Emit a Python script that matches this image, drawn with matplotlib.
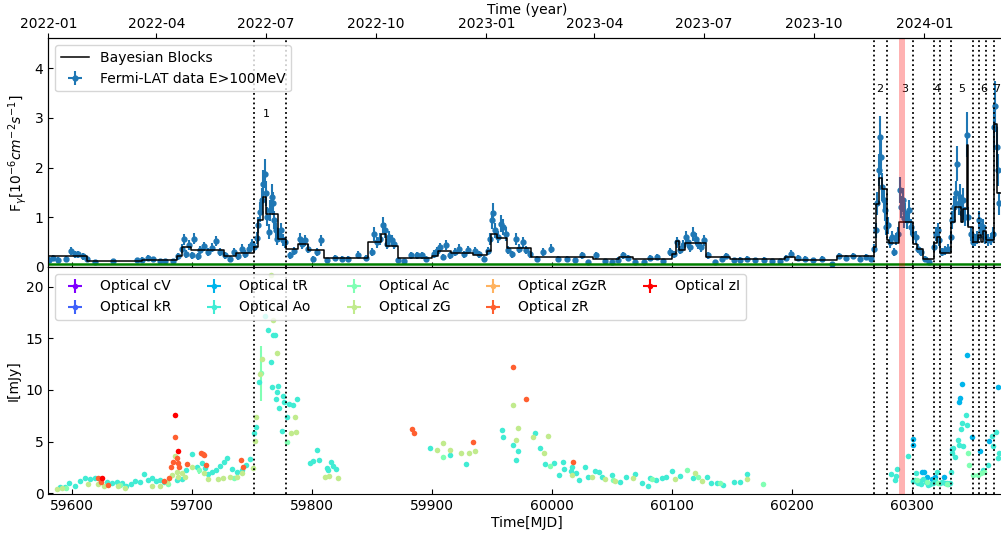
import datetime as dt

import numpy as np
import matplotlib
matplotlib.use("Agg")
import matplotlib.pyplot as plt
import matplotlib.dates as mdates

# ---- Fermi-LAT light curve (E>100MeV), flux in 1e-6 cm^-2 s^-1 ----
lat_mjd = [
    59580.6, 59584, 59588, 59594.5, 59599, 59602, 59605, 59609, 59612, 59619,
    59634, 59653.7, 59658, 59663, 59667.5, 59673, 59677, 59684, 59688, 59691,
    59693, 59695, 59697, 59699.5, 59701.7, 59704.5, 59706.7, 59710, 59713, 59716,
    59720, 59723, 59727, 59731, 59735, 59738, 59741, 59744, 59747, 59749.5,
    59751.7, 59753.7, 59755, 59756.4, 59757.8, 59759, 59760.6, 59761.4, 59762.5, 59764,
    59765, 59766, 59767, 59768.3, 59769.5, 59770.8, 59772.5, 59774, 59775.3, 59777,
    59781.4, 59785, 59790, 59791.7, 59794, 59796.7, 59800.8, 59803.6, 59807, 59812,
    59819, 59824.5, 59830, 59838, 59844.5,
    59849.5, 59851, 59853.7, 59856.4, 59858.7, 59860.6, 59862.5, 59864, 59866, 59868,
    59871.7, 59876, 59882, 59887, 59891, 59895, 59901, 59903.7, 59906.4, 59909,
    59911, 59914.7, 59918.9, 59922.5, 59926, 59930, 59935.6, 59939, 59943, 59946,
    59948, 59949.5, 59950.8, 59952.5, 59955, 59957, 59959, 59961, 59963, 59966,
    59969.5, 59972.5, 59975.3, 59978, 59981.4, 59987, 59992.5, 59999, 60005, 60012,
    60019, 60024.5, 60030, 60036.4, 60044, 60049.5, 60055, 60059, 60063, 60069,
    60076, 60081, 60087, 60092.5, 60098, 60101, 60103.7, 60106.4, 60109, 60111.4,
    60113, 60115, 60117.5, 60119.7, 60121.7,
    60124, 60126.4, 60130, 60135.6, 60141, 60145, 60151, 60156, 60162, 60169,
    60176, 60183, 60190, 60195, 60199, 60205, 60210.6, 60217.5, 60224.5, 60232.8,
    60239, 60245, 60250.8, 60256, 60261.6, 60265.7,
    60268.1, 60269.5, 60270.8, 60272, 60273, 60274, 60274.8, 60276, 60277, 60278,
    60279.8, 60281.4, 60283, 60284.8, 60286.4, 60287.8, 60289.7, 60290.8, 60292, 60293,
    60294, 60295.3, 60297, 60298.7, 60300.8, 60303, 60305, 60307, 60310.6, 60314,
    60318, 60319.8, 60321, 60322.5, 60324.5, 60327, 60330, 60332, 60333.3, 60334.7,
    60336.4, 60337.5, 60338.7, 60339.8, 60341, 60342.5, 60344, 60345.3, 60346.7, 60348.7,
    60350.3, 60352, 60354, 60355.8, 60357.5, 60359, 60360.8, 60363, 60365.3, 60367,
    60368, 60369, 60370.3, 60371.4, 60372.5,
]
lat_flux = [
    0.15, 0.19, 0.15, 0.17, 0.32, 0.26, 0.26, 0.22, 0.17, 0.10,
    0.115, 0.135, 0.15, 0.18, 0.16, 0.12, 0.115, 0.12, 0.22, 0.37,
    0.56, 0.27, 0.45, 0.24, 0.57, 0.22, 0.34, 0.42, 0.30, 0.39,
    0.52, 0.30, 0.24, 0.155, 0.30, 0.22, 0.37, 0.27, 0.37, 0.47,
    0.40, 0.59, 0.84, 1.11, 1.35, 1.68, 1.88, 1.48, 1.01, 0.71,
    1.14, 1.41, 1.28, 0.94, 0.74, 0.57, 0.64, 0.74, 0.55, 0.50,
    0.24, 0.32, 0.57, 0.47, 0.54, 0.37, 0.17, 0.30, 0.54, 0.135,
    0.18, 0.17, 0.17, 0.25, 0.19,
    0.30, 0.67, 0.50, 0.57, 0.84, 0.74, 0.47, 0.60, 0.54, 0.47,
    0.135, 0.12, 0.24, 0.24, 0.24, 0.17, 0.27, 0.32, 0.40, 0.20,
    0.44, 0.24, 0.30, 0.37, 0.26, 0.34, 0.32, 0.26, 0.155, 0.32,
    0.57, 0.94, 1.08, 0.74, 0.60, 0.87, 0.81, 0.67, 0.34, 0.26,
    0.57, 0.37, 0.50, 0.34, 0.26, 0.155, 0.30, 0.37, 0.17, 0.17,
    0.135, 0.24, 0.10, 0.24, 0.12, 0.10, 0.15, 0.24, 0.19, 0.10,
    0.10, 0.19, 0.20, 0.115, 0.30, 0.26, 0.50, 0.34, 0.44, 0.60,
    0.50, 0.40, 0.67, 0.57, 0.47,
    0.40, 0.54, 0.24, 0.10, 0.17, 0.215, 0.135, 0.15, 0.17, 0.135,
    0.15, 0.12, 0.115, 0.19, 0.27, 0.19, 0.17, 0.135, 0.17, 0.07,
    0.215, 0.19, 0.215, 0.17, 0.20, 0.17,
    0.37, 0.74, 1.28, 1.95, 2.62, 2.22, 1.61, 1.34, 1.14, 0.81,
    0.84, 0.50, 0.60, 0.30, 0.57, 0.67, 1.55, 1.21, 1.34, 0.98,
    1.08, 0.94, 1.14, 0.81, 0.67, 0.60, 0.37, 0.30, 0.17, 0.10,
    0.40, 0.67, 0.74, 0.54, 0.30, 0.34, 0.37, 0.60, 0.94, 1.21,
    1.48, 2.08, 1.28, 1.41, 1.08, 1.34, 1.01, 2.66, 1.01, 0.67,
    0.50, 0.54, 0.60, 0.94, 0.74, 0.81, 0.60, 0.54, 0.57, 0.67,
    2.82, 3.23, 2.42, 1.95, 1.28,
]
lat_err = [
    0.06, 0.06, 0.06, 0.06, 0.08, 0.07, 0.07, 0.07, 0.06, 0.05,
    0.04, 0.05, 0.05, 0.06, 0.05, 0.05, 0.05, 0.05, 0.07, 0.09,
    0.11, 0.08, 0.10, 0.07, 0.11, 0.07, 0.08, 0.09, 0.08, 0.09,
    0.10, 0.08, 0.07, 0.06, 0.08, 0.07, 0.09, 0.08, 0.09, 0.10,
    0.10, 0.12, 0.16, 0.20, 0.24, 0.28, 0.30, 0.26, 0.19, 0.15,
    0.21, 0.25, 0.23, 0.18, 0.15, 0.13, 0.13, 0.15, 0.12, 0.11,
    0.07, 0.08, 0.12, 0.10, 0.11, 0.09, 0.06, 0.08, 0.11, 0.05,
    0.06, 0.06, 0.06, 0.07, 0.06,
    0.08, 0.14, 0.11, 0.12, 0.16, 0.15, 0.10, 0.12, 0.11, 0.10,
    0.05, 0.05, 0.07, 0.07, 0.07, 0.06, 0.08, 0.08, 0.09, 0.06,
    0.10, 0.07, 0.08, 0.09, 0.07, 0.08, 0.08, 0.07, 0.06, 0.08,
    0.12, 0.18, 0.20, 0.15, 0.12, 0.17, 0.16, 0.14, 0.08, 0.07,
    0.12, 0.09, 0.11, 0.08, 0.07, 0.06, 0.08, 0.09, 0.06, 0.06,
    0.05, 0.07, 0.05, 0.07, 0.05, 0.05, 0.06, 0.07, 0.06, 0.05,
    0.05, 0.06, 0.06, 0.05, 0.08, 0.07, 0.11, 0.08, 0.10, 0.12,
    0.11, 0.09, 0.14, 0.12, 0.10,
    0.09, 0.11, 0.07, 0.05, 0.06, 0.06, 0.05, 0.05, 0.06, 0.05,
    0.05, 0.05, 0.05, 0.06, 0.07, 0.06, 0.06, 0.05, 0.06, 0.04,
    0.06, 0.06, 0.06, 0.06, 0.06, 0.06,
    0.09, 0.15, 0.23, 0.33, 0.42, 0.36, 0.28, 0.24, 0.21, 0.16,
    0.17, 0.11, 0.13, 0.08, 0.12, 0.14, 0.27, 0.22, 0.24, 0.19,
    0.20, 0.18, 0.21, 0.16, 0.14, 0.13, 0.09, 0.08, 0.06, 0.05,
    0.10, 0.14, 0.15, 0.12, 0.08, 0.09, 0.09, 0.13, 0.18, 0.22,
    0.26, 0.35, 0.23, 0.25, 0.20, 0.24, 0.19, 0.45, 0.19, 0.14,
    0.11, 0.12, 0.13, 0.18, 0.15, 0.16, 0.13, 0.12, 0.12, 0.14,
    0.46, 0.52, 0.40, 0.33, 0.23,
]

# ---- Bayesian blocks (edges, block values) ----
bb_edges = [
    59580, 59612, 59657.8, 59687.5, 59691.7, 59698.6, 59726.4, 59736.4, 59751.4, 59755,
    59759.2, 59761.4, 59771.2, 59778.1, 59788.4, 59796.7, 59810, 59846.7, 59857.3, 59861.4,
    59871.2, 59899.5, 59905, 59915.6, 59934.2, 59945.3, 59948.6, 59953.6, 59962.3, 59982.3,
    60033.7, 60055.8, 60067.5, 60099.5, 60103, 60105.9, 60110.6, 60127.8, 60148, 60193.9,
    60202.3, 60237, 60268.1, 60269.8, 60272.3, 60274.5, 60278.7, 60280.8, 60289.2, 60300.3,
    60304.2, 60308.6, 60318, 60320.8, 60323.1, 60332, 60335.6, 60340.6, 60342.5, 60345.3,
    60346.7, 60350.8, 60355, 60357.5, 60359.2, 60361.2, 60368.1, 60370.9, 60378,
]
bb_vals = [
    0.215, 0.115, 0.15, 0.23, 0.41, 0.35, 0.23, 0.29, 0.40, 0.955,
    1.41, 1.06, 0.56, 0.37, 0.46, 0.34, 0.175, 0.50, 0.66, 0.42,
    0.18, 0.22, 0.32, 0.28, 0.24, 0.33, 0.67, 0.585, 0.38, 0.21,
    0.16, 0.20, 0.16, 0.255, 0.52, 0.35, 0.48, 0.20, 0.155, 0.20,
    0.15, 0.215, 0.40, 1.26, 1.80, 1.56, 0.54, 0.48, 0.915, 0.46,
    0.36, 0.17, 0.48, 0.605, 0.28, 0.91, 1.21, 0.91, 1.16, 2.45,
    0.80, 0.50, 0.64, 0.50, 0.73, 0.55, 2.88, 1.48,
]

# ---- optical photometry, flux density in mJy, per filter ----
cV_mjd, cV_flux = [], []
kR_mjd, kR_flux = [], []
tR_mjd = [60300.2, 60300.8, 60308, 60309.7, 60312, 60316.4, 60318.6, 60326.4, 60333,
          60338.8, 60340, 60341, 60345.8, 60349.8, 60356.7, 60363.7, 60371.4]
tR_flux = [5.26, 4.68, 2.09, 2.09, 1.55, 1.35, 1.61, 1.61, 4.29,
           8.87, 9.19, 10.55, 13.39, 5.42, 4.12, 5.09, 10.26]
Ao_mjd = [
    59589.75, 59594, 59597, 59602, 59606.4, 59610.6, 59614.7, 59619, 59623, 59628.7,
    59632.8, 59637, 59641, 59645, 59649, 59652, 59656, 59660, 59663, 59666,
    59669.5, 59673, 59676.7, 59687, 59691, 59695, 59699.5, 59703.7, 59707.8, 59710.6,
    59713, 59716, 59719.5, 59723, 59726.7, 59728.6, 59733, 59737, 59741, 59745,
    59748, 59751.7, 59753, 59755.6, 59760.6, 59763.4, 59765.3, 59766.7, 59767.5, 59769,
    59769.5, 59770.3, 59771, 59772.5, 59774.5, 59775.6, 59776.4, 59779, 59780.8, 59783.6,
    59787.5, 59798, 59800.8, 59803.6, 59805.8, 59812, 59813.3, 59815.6, 59817, 59819.7,
    59898, 59914.7, 59928, 59957.8, 59959, 59967, 59969.7, 59971.7, 59985.6, 59989.8,
    59994, 60001.7, 60005.8, 60008.6, 60010, 60015.3, 60016, 60020, 60022.5, 60027,
    60030, 60035.6, 60039, 60041, 60050, 60056, 60061, 60069, 60075, 60080,
    60081, 60086, 60091, 60095, 60100, 60106, 60117.5, 60128.6, 60132, 60137,
    60142, 60151, 60156.4, 60162, 60282.3, 60285.6, 60286.4, 60287.5, 60296.7, 60300.5,
    60302, 60303, 60304, 60305, 60306.4, 60307.5, 60309, 60311, 60313, 60314.7,
    60317, 60319, 60320.8, 60323, 60325, 60327.3, 60328.5, 60330, 60331, 60332,
    60332.8, 60333.7, 60335.6, 60338.3, 60339.2, 60340.6, 60341.7, 60342.5, 60344.5, 60345.3,
    60359, 60363.3, 60366, 60367.5, 60369.5, 60371.2, 60372.5,
]
Ao_flux = [
    0.64, 0.58, 1.03, 0.71, 1.22, 1.51, 1.38, 1.45, 1.35, 1.12,
    0.97, 1.12, 0.97, 0.71, 0.90, 1.22, 1.12, 1.87, 1.29, 1.51,
    1.22, 1.29, 1.12, 1.29, 1.35, 2.25, 3.80, 2.52, 2.90, 2.42,
    1.87, 2.09, 2.25, 2.64, 3.06, 3.39, 2.32, 2.09, 2.25, 2.74,
    3.29, 5.81, 6.45, 10.74, 17.2, 15.8, 12.7, 10.3, 15.3, 15.3,
    9.1, 9.78, 10.4, 8.29, 6.03, 9.45, 8.81, 7.36, 8.61, 8.52,
    9.10, 2.96, 3.13, 4.19, 3.19, 2.42, 2.23, 3.06, 2.64, 2.35,
    4.36, 3.71, 2.84, 6.13, 5.48, 4.68, 3.22, 4.12, 5.81, 4.42,
    2.84, 2.90, 1.74, 3.06, 2.32, 2.19, 2.52, 1.93, 1.29, 2.52,
    1.61, 2.16, 2.03, 1.55, 1.77, 1.12, 1.61, 1.87, 1.03, 0.74,
    1.45, 1.29, 1.45, 1.61, 2.19, 1.68, 1.45, 1.61, 1.03, 1.03,
    0.80, 1.12, 1.12, 1.84, 1.84, 1.29, 1.68, 2.35, 3.64, 1.20,
    1.30, 1.93, 1.12, 1.00, 1.22, 0.90, 1.38, 1.10, 0.80, 0.90,
    1.03, 1.25, 2.09, 1.03, 1.05, 0.97, 1.00, 0.90, 0.95, 2.09,
    3.87, 4.36, 3.54, 5.16, 4.68, 6.20, 6.78, 4.58, 7.55, 6.58,
    2.25, 2.74, 5.55, 4.58, 5.96, 3.39, 3.87,
]
Ac_mjd = [59595, 59640, 59680, 59705.6, 59735, 59757.2, 59778.7, 59908.6, 59998, 60050.6,
          60083, 60112, 60121, 60140, 60175.8, 60303.7, 60312.5, 60321.5, 60329, 60346.7,
          60347.5, 60350.8, 60355, 60357, 60360]
Ac_flux = [0.50, 0.80, 0.90, 2.25, 1.50, 11.6, 4.94, 3.54, 2.67, 1.29,
           1.35, 2.25, 1.55, 1.00, 0.90, 1.29, 1.10, 0.95, 0.85, 3.87,
           2.74, 1.77, 1.77, 2.00, 2.10]
Ac_err = [0.1, 0.1, 0.1, 0.4, 0.1, 2.7, 0.1, 0.1, 0.1, 0.1,
          0.1, 0.1, 0.1, 0.1, 0.1, 0.1, 0.1, 0.1, 0.1, 0.1,
          0.1, 0.1, 0.1, 0.1, 0.1]
zG_mjd = [
    59587, 59591, 59613.3, 59621.7, 59626.7, 59638.3, 59644, 59666, 59673, 59678.7,
    59683.3, 59685.6, 59687, 59688.3, 59691, 59694, 59700, 59710, 59713, 59721.7,
    59725.8, 59731.4, 59737, 59741.7, 59750.8, 59752, 59753, 59756.4, 59758.3, 59765.3,
    59767.5, 59770.3, 59782, 59785.6, 59786.4, 59810.6, 59814, 59821, 59903.7, 59909,
    59914.7, 59923.6, 59930.8, 59935.6, 59967.5, 59969.5, 59971.7, 59984, 59993.3, 59996.7,
    60016, 60032.8, 60044, 60052, 60067.5, 60102, 60119, 60124.5, 60162.5,
]
zG_flux = [
    0.39, 0.48, 0.90, 0.90, 0.71, 0.71, 0.55, 0.71, 0.71, 1.12,
    1.77, 3.61, 2.03, 1.61, 1.93, 1.60, 2.52, 1.93, 1.35, 1.35,
    1.45, 1.61, 1.61, 1.93, 2.42, 5.06, 7.36, 11.5, 13.0, 21.1,
    16.8, 13.6, 5.81, 7.36, 5.90, 1.58, 1.68, 1.48, 4.19, 4.90,
    4.19, 3.87, 3.93, 4.10, 8.52, 5.19, 6.29, 5.48, 3.87, 5.58,
    1.77, 1.61, 1.38, 1.22, 1.45, 1.35, 1.93, 1.22, 1.35,
]
zGzR_mjd, zGzR_flux = [], []
zR_mjd = [59621.7, 59624, 59629.5, 59676.7, 59680.6, 59682.3, 59684, 59685.3, 59687, 59688.3,
          59689, 59695.3, 59707.3, 59708.6, 59709.7, 59711.4, 59740.6, 59742.5, 59882.8, 59885,
          59934, 59967.5, 59978, 60017]
zR_flux = [1.45, 1.12, 0.80, 1.22, 1.45, 2.52, 3.06, 5.48, 3.39, 2.90,
           2.52, 2.81, 3.93, 3.80, 3.71, 2.74, 3.22, 2.58, 6.22, 5.87,
           5.00, 12.2, 9.13, 3.00]
zI_mjd = [59625, 59685.6, 59688.3]
zI_flux = [1.45, 7.58, 4.10]

# flaring periods (dotted lines), shaded interval and labels
period_lines = [59751.4, 59778.1, 60268.1, 60278.7, 60300.3, 60318, 60323.1,
                60332, 60350.8, 60355.6, 60361.2, 60368.1]
band = (60289.2, 60294.2)
period_names = ["1", "2", "3", "4", "5", "6", "7"]
period_xpos = [59762, 60272.8, 60293.5, 60320.5, 60340.8, 60359.4, 60370.4]
period_ypos = [3.08, 3.58, 3.58, 3.58, 3.58, 3.58, 3.58]


def mjd2date(m):
    return dt.datetime(1858, 11, 17) + dt.timedelta(days=m)


xmin, xmax = 59580, 60378

fig = plt.figure(figsize=(10.01, 5.41), dpi=100)
ax1 = fig.add_axes([0.0483, 0.5065, 0.9567, 0.4225])
ax2 = fig.add_axes([0.0483, 0.0869, 0.9567, 0.4196])

# top panel
ax1.errorbar(lat_mjd, lat_flux, yerr=lat_err, xerr=0.5, fmt="o", ms=3.5,
             color="#1f77b4", elinewidth=1.5, label="Fermi-LAT data E>100MeV", zorder=2)
ax1.step(bb_edges, bb_vals + [bb_vals[-1]], where="post", color="black",
         lw=1.1, label="Bayesian Blocks", zorder=3)
ax1.axhline(0.06, color="green", lw=1.8, zorder=4)
ax1.legend(loc="upper left", fontsize=10)
for n, xp, yp in zip(period_names, period_xpos, period_ypos):
    ax1.text(xp, yp, n, ha="center", va="center", fontsize=8)
ax1.set_xlim(xmin, xmax)
ax1.set_ylim(0, 4.6)
ax1.set_yticks([0, 1, 2, 3, 4])
ax1.set_ylabel(r"F$_\gamma$[$10^{-6} cm^{-2} s^{-1}$]", fontsize=10)
ax1.tick_params(direction="in", labelbottom=False, labelsize=10)

axt = ax1.twiny()
axt.set_xlim(mdates.date2num(mjd2date(xmin)), mdates.date2num(mjd2date(xmax)))
axt.xaxis.set_major_locator(mdates.MonthLocator(bymonth=[1, 4, 7, 10]))
axt.xaxis.set_major_formatter(mdates.DateFormatter("%Y-%m"))
axt.set_xlabel("Time (year)", fontsize=10, labelpad=2)
axt.tick_params(labelsize=10, pad=2)

# bottom panel
cols = plt.cm.rainbow(np.linspace(0, 1, 9))
opt = [
    ("cV", cV_mjd, cV_flux, 0.1),
    ("kR", kR_mjd, kR_flux, 0.1),
    ("tR", tR_mjd, tR_flux, 0.1),
    ("Ao", Ao_mjd, Ao_flux, 0.1),
    ("Ac", Ac_mjd, Ac_flux, Ac_err),
    ("zG", zG_mjd, zG_flux, 0.1),
    ("zGzR", zGzR_mjd, zGzR_flux, 0.1),
    ("zR", zR_mjd, zR_flux, 0.1),
    ("zI", zI_mjd, zI_flux, 0.1),
]
for c, (name, m, f, e) in zip(cols, opt):
    ax2.errorbar(m, f, yerr=e, xerr=0.2, fmt="o", ms=4, color=c, mew=0, elinewidth=1.5,
                 label="Optical " + name)
ax2.legend(loc="upper left", ncol=5, fontsize=10, columnspacing=2.1)
ax2.set_xlim(xmin, xmax)
ax2.set_ylim(-0.07, 21.9)
ax2.set_yticks([0, 5, 10, 15, 20])
ax2.set_xlabel("Time[MJD]", fontsize=10, labelpad=2)
ax2.set_ylabel("I[mJy]", fontsize=10)
ax2.tick_params(direction="in", labelsize=10)

for ax in (ax1, ax2):
    for v in period_lines:
        ax.axvline(v, color="black", ls=":", lw=1.3, zorder=5)
    ax.axvspan(band[0], band[1], color="red", alpha=0.3, lw=0, zorder=5)

fig.savefig("out.png", dpi=100)
